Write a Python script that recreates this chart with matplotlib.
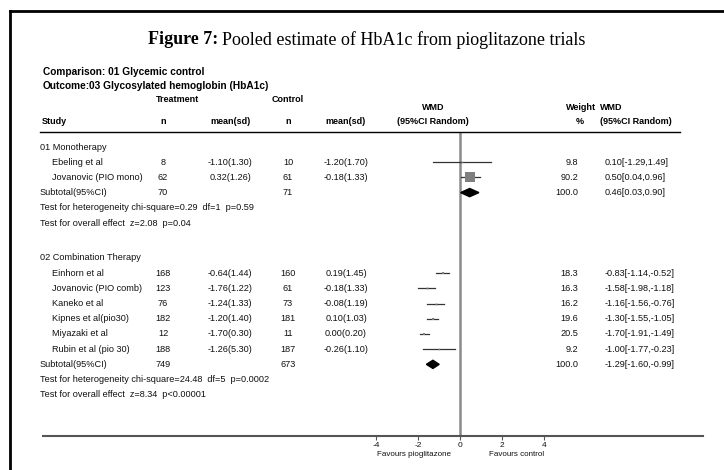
"""
Forest plot: pooled estimate of HbA1c from pioglitazone trials (RevMan style).
"""

import matplotlib.pyplot as plt
from matplotlib.lines import Line2D
from matplotlib.transforms import blended_transform_factory

# ── Data ──────────────────────────────────────────────────────────────
mono_studies = ["Ebeling et al", "Jovanovic (PIO mono)"]
mono_n_t = [8, 62]
mono_mean_t = [-1.10, 0.32]
mono_sd_t = [1.30, 1.26]
mono_n_c = [10, 61]
mono_mean_c = [-1.20, -0.18]
mono_sd_c = [1.70, 1.33]
mono_wmd = [0.10, 0.50]
mono_lo = [-1.29, 0.04]
mono_hi = [1.49, 0.96]
mono_weight = [9.8, 90.2]
mono_total = {"n_t": 70, "n_c": 71, "wmd": 0.46, "lo": 0.03, "hi": 0.90, "weight": 100.0}
mono_het = "Test for heterogeneity chi-square=0.29  df=1  p=0.59"
mono_eff = "Test for overall effect  z=2.08  p=0.04"

comb_studies = ["Einhorn et al", "Jovanovic (PIO comb)", "Kaneko et al",
                "Kipnes et al(pio30)", "Miyazaki et al", "Rubin et al (pio 30)"]
comb_n_t = [168, 123, 76, 182, 12, 188]
comb_mean_t = [-0.64, -1.76, -1.24, -1.20, -1.70, -1.26]
comb_sd_t = [1.44, 1.22, 1.33, 1.40, 0.30, 5.30]
comb_n_c = [160, 61, 73, 181, 11, 187]
comb_mean_c = [0.19, -0.18, -0.08, 0.10, 0.00, -0.26]
comb_sd_c = [1.45, 1.33, 1.19, 1.03, 0.20, 1.10]
comb_wmd = [-0.83, -1.58, -1.16, -1.30, -1.70, -1.00]
comb_lo = [-1.14, -1.98, -1.56, -1.55, -1.91, -1.77]
comb_hi = [-0.52, -1.18, -0.76, -1.05, -1.49, -0.23]
comb_weight = [18.3, 16.3, 16.2, 19.6, 20.5, 9.2]
comb_total = {"n_t": 749, "n_c": 673, "wmd": -1.29, "lo": -1.60, "hi": -0.99, "weight": 100.0}
comb_het = "Test for heterogeneity chi-square=24.48  df=5  p=0.0002"
comb_eff = "Test for overall effect  z=8.34  p<0.00001"

x_ticks = [-4, -2, 0, 2, 4]

# ── Layout (pixels of a 724x470 canvas) ───────────────────────────────
W, H = 724, 470
ROW0, ROW_H = 147, 15.2          # first table row centre / row pitch
AX_TOP, AX_BOT = 132, 436        # header rule / forest axis line
ZERO_X, UNIT = 460, 21           # pixel of WMD=0 / pixels per WMD unit
AX_L, AX_R = 43, 703

BODY = dict(family=["Liberation Sans", "DejaVu Sans"], fontsize=6.6, color="#111111")
HEAD = dict(family=["Liberation Sans", "DejaVu Sans"], fontsize=6.5, fontweight="bold")
NARROW = dict(family=["Liberation Sans Narrow", "Liberation Sans", "DejaVu Sans"],
              fontsize=7.3, fontweight="bold")


def fx(px):
    return px / W


def fy(py):
    return 1 - py / H


fig = plt.figure(figsize=(W / 100, H / 100), dpi=100)
ax = fig.add_axes([fx(AX_L), fy(AX_BOT), (AX_R - AX_L) / W, (AX_BOT - AX_TOP) / H])
ax.set_xlim((AX_L - ZERO_X) / UNIT, (AX_R - ZERO_X) / UNIT)
ax.set_ylim((AX_BOT - ROW0) / ROW_H, -(ROW0 - AX_TOP) / ROW_H)
for s in ["top", "left", "right"]:
    ax.spines[s].set_visible(False)
ax.spines["bottom"].set_color("#555555")
ax.spines["bottom"].set_linewidth(1.5)
ax.set_yticks([])
ax.set_xticks(x_ticks)
ax.set_xticklabels([str(t) for t in x_ticks], **{**BODY, "fontsize": 6})
ax.tick_params(axis="x", length=3, width=0.8, color="#555555", pad=1)
ax.axvline(0, color="#8a8a8a", linewidth=1.8, zorder=1)

tr = blended_transform_factory(fig.transFigure, ax.transData)

# column x positions (pixels)
C_STUDY, C_GROUP = 52, 40
C_NT, C_MT, C_NC, C_MC = 163, 230, 288, 346
C_WT, C_WMD = 578, 605


def draw_group(row, title, studies, n_t, m_t, s_t, n_c, m_c, s_c,
               wmd, lo, hi, weight, total, het, eff):
    ax.text(fx(C_GROUP), row, title, transform=tr, va="center", **BODY)
    for i, name in enumerate(studies):
        r = row + 1 + i
        ax.text(fx(C_STUDY), r, name, transform=tr, va="center", **BODY)
        ax.text(fx(C_NT), r, f"{n_t[i]}", transform=tr, va="center", ha="center", **BODY)
        ax.text(fx(C_MT), r, f"{m_t[i]:.2f}({s_t[i]:.2f})", transform=tr,
                va="center", ha="center", **BODY)
        ax.text(fx(C_NC), r, f"{n_c[i]}", transform=tr, va="center", ha="center", **BODY)
        ax.text(fx(C_MC), r, f"{m_c[i]:.2f}({s_c[i]:.2f})", transform=tr,
                va="center", ha="center", **BODY)
        ax.text(fx(C_WT), r, f"{weight[i]:.1f}", transform=tr, va="center", ha="right", **BODY)
        ax.text(fx(C_WMD), r, f"{wmd[i]:.2f}[{lo[i]:.2f},{hi[i]:.2f}]",
                transform=tr, va="center", **BODY)
        # CI line and weight box
        ax.plot([lo[i], hi[i]], [r, r], color="#333333", linewidth=0.9, zorder=3)
        box = max(weight[i] * 0.11, 1.5) * 0.72
        ax.plot(wmd[i], r, marker="s", markersize=box, color="#7f7f7f",
                markeredgewidth=0, zorder=4)
    r = row + 1 + len(studies)
    ax.text(fx(C_GROUP), r, "Subtotal(95%CI)", transform=tr, va="center", **BODY)
    ax.text(fx(C_NT), r, f"{total['n_t']}", transform=tr, va="center", ha="center", **BODY)
    ax.text(fx(C_NC), r, f"{total['n_c']}", transform=tr, va="center", ha="center", **BODY)
    ax.text(fx(C_WT), r, f"{total['weight']:.1f}", transform=tr, va="center", ha="right", **BODY)
    ax.text(fx(C_WMD), r, f"{total['wmd']:.2f}[{total['lo']:.2f},{total['hi']:.2f}]",
            transform=tr, va="center", **BODY)
    ax.fill([total["lo"], total["wmd"], total["hi"], total["wmd"]],
            [r, r - 0.27, r, r + 0.27], color="black", zorder=4)
    ax.text(fx(C_GROUP), r + 1, het, transform=tr, va="center", **BODY)
    ax.text(fx(C_GROUP), r + 2, eff, transform=tr, va="center", **BODY)


draw_group(0, "01 Monotherapy", mono_studies, mono_n_t, mono_mean_t, mono_sd_t,
           mono_n_c, mono_mean_c, mono_sd_c, mono_wmd, mono_lo, mono_hi,
           mono_weight, mono_total, mono_het, mono_eff)
draw_group(7.3, "02 Combination Therapy", comb_studies, comb_n_t, comb_mean_t, comb_sd_t,
           comb_n_c, comb_mean_c, comb_sd_c, comb_wmd, comb_lo, comb_hi,
           comb_weight, comb_total, comb_het, comb_eff)

# favours labels under the axis
ax.text(-2.2, -0.05, "Favours pioglitazone", transform=ax.get_xaxis_transform(),
        ha="center", va="top", **{**BODY, "fontsize": 5.8})
ax.text(2.7, -0.05, "Favours control", transform=ax.get_xaxis_transform(),
        ha="center", va="top", **{**BODY, "fontsize": 5.8})

# ── Header ────────────────────────────────────────────────────────────
fig.text(fx(148), fy(40), "Figure 7:", family=["Liberation Serif", "DejaVu Serif"],
         fontsize=13, fontweight="bold", va="center")
fig.text(fx(222), fy(40), "Pooled estimate of HbA1c from pioglitazone trials",
         family=["Liberation Serif", "DejaVu Serif"], fontsize=13, va="center")
fig.text(fx(43), fy(72), "Comparison: 01 Glycemic control", va="center", **NARROW)
fig.text(fx(43), fy(86), "Outcome:", va="center", **NARROW)
fig.text(fx(89), fy(86), "03 Glycosylated hemoglobin (HbA1c)", va="center", **NARROW)

fig.text(fx(178), fy(100), "Treatment", ha="center", va="center", **HEAD)
fig.text(fx(288), fy(100), "Control", ha="center", va="center", **HEAD)
fig.text(fx(433), fy(107), "WMD", ha="center", va="center", **HEAD)
fig.text(fx(581), fy(107), "Weight", ha="center", va="center", **HEAD)
fig.text(fx(600), fy(107), "WMD", ha="left", va="center", **HEAD)
fig.text(fx(42), fy(122), "Study", va="center", **HEAD)
fig.text(fx(C_NT), fy(122), "n", ha="center", va="center", **HEAD)
fig.text(fx(C_MT), fy(122), "mean(sd)", ha="center", va="center", **HEAD)
fig.text(fx(C_NC), fy(122), "n", ha="center", va="center", **HEAD)
fig.text(fx(C_MC), fy(122), "mean(sd)", ha="center", va="center", **HEAD)
fig.text(fx(433), fy(122), "(95%CI Random)", ha="center", va="center", **HEAD)
fig.text(fx(580), fy(122), "%", ha="center", va="center", **HEAD)
fig.text(fx(600), fy(122), "(95%CI Random)", ha="left", va="center", **HEAD)

# header rule and page frame
fig.add_artist(Line2D([fx(40), fx(680)], [fy(AX_TOP), fy(AX_TOP)], color="black", linewidth=1))
fig.add_artist(Line2D([fx(10), fx(724)], [fy(11), fy(11)], color="black", linewidth=2))
fig.add_artist(Line2D([fx(10), fx(10)], [fy(11), fy(470)], color="black", linewidth=2))

fig.savefig("out.png", dpi=100)
